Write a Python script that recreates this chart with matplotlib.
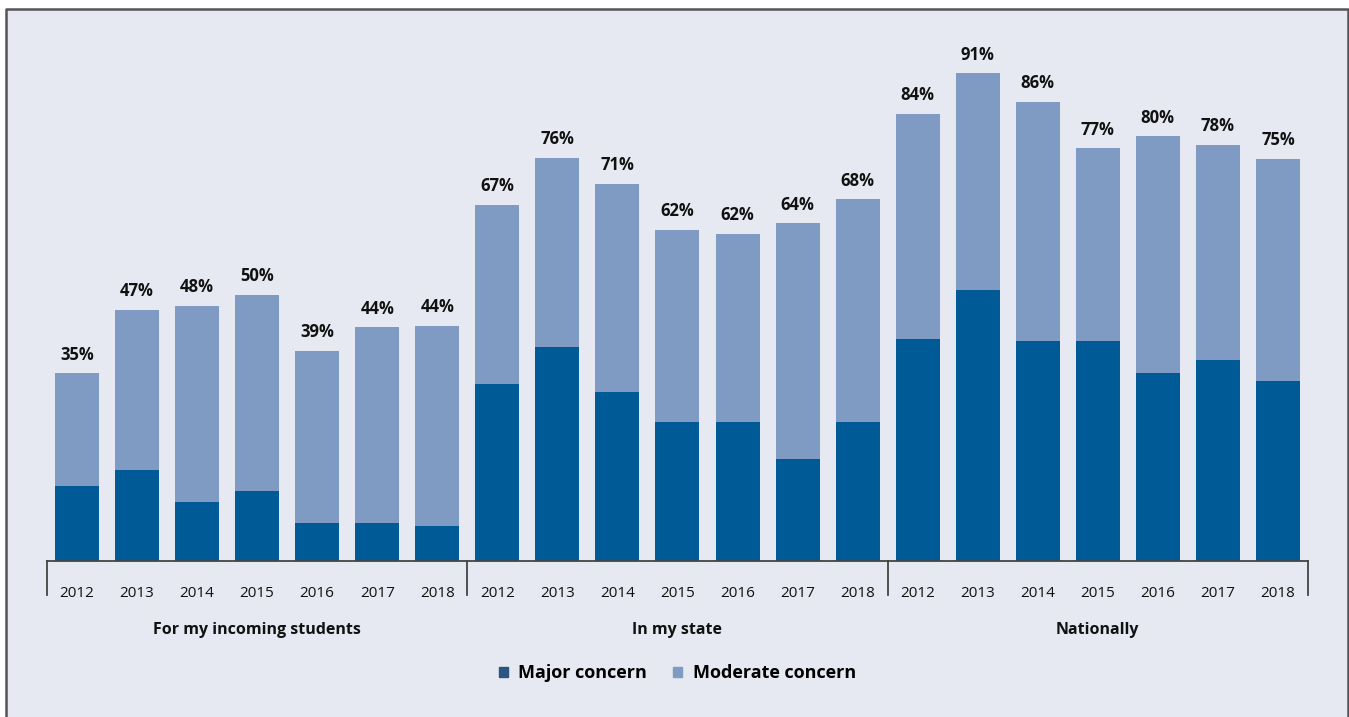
import numpy as np
import matplotlib
matplotlib.use('Agg')
import matplotlib.pyplot as plt
from matplotlib.patches import Rectangle, Patch

plt.rcParams['font.family'] = ['Open Sans', 'DejaVu Sans']

groups = ['For my incoming students', 'In my state', 'Nationally']
years = ['2012', '2013', '2014', '2015', '2016', '2017', '2018']

major = [14, 17, 11, 13, 7, 7, 6.5,
         33, 40, 31.5, 26, 26, 19, 26,
         41.5, 50.5, 41, 41, 35, 37.5, 33.5]
total = [35, 47, 48, 50, 39, 44, 44,
         67, 76, 71, 62, 62, 64, 68,
         84, 91, 86, 77, 80, 78, 75]
total_bars = [35, 46.8, 47.6, 49.7, 39.2, 43.6, 43.9,
              66.5, 75.2, 70.4, 61.8, 61, 63, 67.5,
              83.4, 91, 85.6, 77, 79.2, 77.6, 75]

dark = '#005a96'
light = '#7f9bc3'
bg = '#e6e9f1'

fig = plt.figure(figsize=(13.49, 7.17), dpi=100, facecolor='white')
fig.patches.append(Rectangle((0.0045, -0.01), 1.0, 0.9975, transform=fig.transFigure,
                             facecolor=bg, edgecolor='none', zorder=-2))
fig.lines.append(plt.Line2D([0.0045, 0.0045, 0.999, 0.999], [0.0, 0.9875, 0.9875, 0.0],
                            transform=fig.transFigure, color='#555555', lw=1.8))
ax = fig.add_axes([0.0348, 0.2176, 0.9348, 0.7476])
ax.set_facecolor(bg)

x = np.arange(len(total))
moderate = np.array(total_bars) - np.array(major)
ax.bar(x, major, width=0.733, color=dark, zorder=2)
ax.bar(x, moderate, bottom=major, width=0.733, color=light, zorder=2)

for xi, t, tb in zip(x, total, total_bars):
    ax.text(xi, tb + 1.8, f'{t}%', ha='center', va='bottom', fontsize=12,
            fontweight='bold', color='#111111')

ax.set_xlim(-0.5, 20.5)
ax.set_ylim(0, 100)
for s in ['top', 'right', 'left']:
    ax.spines[s].set_visible(False)
ax.spines['bottom'].set_color('#444444')
ax.spines['bottom'].set_linewidth(1.3)
ax.set_yticks([])
ax.set_xticks(x)
ax.set_xticklabels(years * 3, fontsize=11, color='#111111')
ax.tick_params(axis='x', length=0, pad=18)

# group separators and group labels
for b in [-0.5, 6.5, 13.5, 20.5]:
    ax.plot([b, b], [0, -6.3], color='#444444', lw=1.3, clip_on=False)
for i, g in enumerate(groups):
    ax.text(i * 7 + 3, -12.8, g, ha='center', va='center', fontsize=11.5,
            fontweight='bold', color='#111111')

handles = [Patch(color='#2d5582', label='Major concern'),
           Patch(color=light, label='Moderate concern')]
fig.legend(handles=handles, loc='center', bbox_to_anchor=(0.502, 0.061), ncol=2,
           frameon=False, prop={'size': 13, 'weight': 'bold'},
           handlelength=0.5, handleheight=0.5, handletextpad=0.6, columnspacing=1.4)

fig.savefig('out.png', dpi=100, facecolor='white')
